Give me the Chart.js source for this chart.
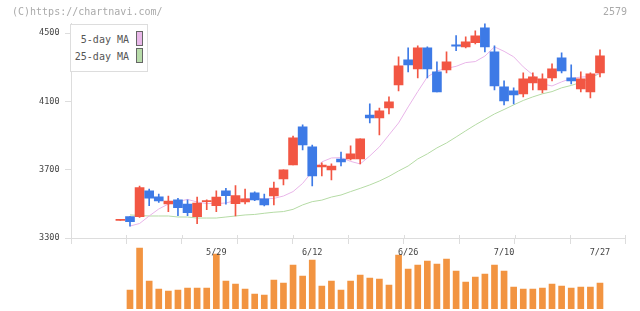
<!DOCTYPE html>
<html>
<head>
<meta charset="utf-8">
<script src="https://cdn.jsdelivr.net/npm/chart.js@4/dist/chart.umd.min.js"></script>
<style>
html, body { margin: 0; padding: 0; background: #fff; }
#wrap { position: relative; width: 640px; height: 311px; overflow: hidden; font-family: "DejaVu Sans Mono", monospace; }
canvas { position: absolute; left: 0; top: 0; }
.hdr { position: absolute; top: 5px; font-size: 10px; line-height: 14px; color: #aaa; }
#legend { position: absolute; left: 70px; top: 24px; width: 78px; height: 48px; box-sizing: border-box; border: 1px solid #ddd; background: #fff; }
.lg-text { position: absolute; font-size: 10px; line-height: 14px; color: #555; text-align: right; white-space: nowrap; }
.lg-box { position: absolute; width: 7px; height: 15px; box-sizing: border-box; border: 1px solid #666; }
</style>
</head>
<body>
<div id="wrap">
  <canvas id="vol" width="640" height="311"></canvas>
  <canvas id="price" width="640" height="311"></canvas>
  <div class="hdr" style="left:12px;">(C)https://chartnavi.com/</div>
  <div class="hdr" style="right:13px;">2579</div>
  <div id="legend"></div>
  <div class="lg-text" style="right:511px; top:33px;">5-day MA</div>
  <div class="lg-box" style="left:136px; top:31px; background:#e9b8e9;"></div>
  <div class="lg-text" style="right:511px; top:50px;">25-day MA</div>
  <div class="lg-box" style="left:136px; top:48px; background:#b8dcaa;"></div>
</div>
<script>
// candle data, one entry per trading day (index 0 = first day on the chart)
const OPEN  = [3403, 3425, 3425, 3577, 3542, 3499, 3523, 3499, 3425, 3513,
               3489, 3576, 3501, 3511, 3564, 3529, 3546, 3646, 3728, 3951,
               3834, 3716, 3699, 3763, 3763, 3763, 4021, 4004, 4062, 4197,
               4344, 4291, 4414, 4274, 4285, 4432, 4420, 4444, 4532, 4391,
               4186, 4162, 4145, 4209, 4168, 4238, 4356, 4238, 4174, 4156, 4268];
const HIGH  = [3409, 3425, 3605, 3587, 3558, 3546, 3533, 3523, 3540, 3523,
               3576, 3591, 3607, 3587, 3570, 3558, 3627, 3699, 3898, 3963,
               3845, 3740, 3734, 3804, 3840, 3881, 4086, 4062, 4127, 4362,
               4414, 4426, 4420, 4332, 4391, 4487, 4479, 4514, 4555, 4426,
               4221, 4180, 4268, 4268, 4262, 4320, 4385, 4315, 4274, 4268, 4403];
const LOW   = [3403, 3370, 3420, 3489, 3509, 3454, 3431, 3431, 3384, 3466,
               3454, 3498, 3429, 3499, 3519, 3488, 3494, 3611, 3728, 3816,
               3605, 3664, 3640, 3722, 3757, 3734, 3974, 3904, 4027, 4162,
               4274, 4238, 4238, 4156, 4268, 4398, 4414, 4438, 4391, 4168,
               4080, 4086, 4127, 4168, 4150, 4221, 4268, 4203, 4156, 4121, 4244];
const CLOSE = [3409, 3396, 3595, 3533, 3517, 3517, 3478, 3448, 3505, 3519,
               3540, 3548, 3548, 3529, 3523, 3494, 3593, 3699, 3887, 3845,
               3664, 3728, 3722, 3746, 3793, 3881, 4004, 4045, 4098, 4309,
               4315, 4414, 4291, 4156, 4332, 4424, 4450, 4485, 4420, 4191,
               4104, 4139, 4233, 4244, 4233, 4291, 4279, 4221, 4233, 4262, 4367];

// moving averages as drawn on the chart
const MA5  = [null, 3370, 3385, 3429, 3470, 3499, 3514, 3526, 3511, 3502,
              3502, 3505, 3520, 3529, 3533, 3529, 3532, 3546, 3572, 3620,
              3689, 3746, 3769, 3771, 3749, 3734, 3781, 3834, 3904, 3974,
              4068, 4158, 4244, 4279, 4294, 4306, 4328, 4334, 4366, 4420,
              4394, 4362, 4303, 4256, 4203, 4191, 4215, 4235, 4243, 4246, 4266];
const MA25 = [null, 3435, 3432, 3429, 3429, 3429, 3423, 3423, 3417, 3417,
              3417, 3423, 3429, 3435, 3438, 3445, 3451, 3455, 3468, 3494,
              3513, 3522, 3540, 3552, 3572, 3591, 3611, 3634, 3661, 3693,
              3722, 3763, 3793, 3828, 3857, 3892, 3928, 3963, 3995, 4027,
              4053, 4080, 4106, 4127, 4145, 4158, 4180, 4194, 4212, 4238, 4265];

// volume (shares), no trades on the first day
const VOLUME = [null, 19000, 61000, 28000, 20000, 18000, 19000, 21000, 21000, 21000,
                55000, 28000, 25000, 20000, 15000, 14000, 29000, 26000, 44000, 33000,
                49000, 23000, 28000, 19000, 28000, 34000, 31000, 30000, 24000, 54000,
                40000, 44000, 48000, 45000, 50000, 38000, 27000, 32000, 35000, 44000,
                38000, 22000, 20000, 20000, 21000, 25000, 23000, 21000, 22000, 22000, 26000];

const DATE_LABELS = ['5/29', '6/12', '6/26', '7/10', '7/27'];
const DATE_INDEX = [10, 20, 30, 40, 50];
const PRICE_TICKS = [3300, 3700, 4100, 4500];

// axis geometry
const X_MIN = -5.15;
const X_MAX = 52.66;
const Y_MIN = 3300;
const Y_MAX = 4560;
const VOL_MAX = 65000;

const UP = '#f25643';
const DOWN = '#3d7ae6';
const PINK = '#e9b5e9';
const GREEN = '#b5dba5';
const ORANGE = '#f29441';
const AXIS = '#dddddd';
const TICK_FONT = { family: 'DejaVu Sans Mono', size: 8.5 };

const days = CLOSE.map((_, i) => i);
const candleColor = days.map(i => CLOSE[i] >= OPEN[i] ? UP : DOWN);

// small marks above the x axis at every grid tick
const tickUp = {
    id: 'tickUp',
    afterDraw(chart) {
        const s = chart.scales.x;
        const ctx = chart.ctx;
        ctx.save();
        ctx.strokeStyle = AXIS;
        ctx.lineWidth = 1;
        s.ticks.forEach(t => {
            const px = Math.round(s.getPixelForValue(t.value)) + 0.5;
            ctx.beginPath();
            ctx.moveTo(px, s.top - 3);
            ctx.lineTo(px, s.top);
            ctx.stroke();
        });
        ctx.restore();
    }
};

new Chart(document.getElementById('price'), {
    type: 'bar',
    data: {
        datasets: [
            {
                type: 'line',
                data: days.map(i => ({ x: i, y: MA5[i] })),
                borderColor: PINK,
                borderWidth: 1,
                pointRadius: 0,
                fill: false,
                order: 3
            },
            {
                type: 'line',
                data: days.map(i => ({ x: i, y: MA25[i] })),
                borderColor: GREEN,
                borderWidth: 1,
                pointRadius: 0,
                fill: false,
                order: 4
            },
            {
                data: days.map(i => ({ x: i, y: [LOW[i], HIGH[i]] })),
                backgroundColor: candleColor,
                barThickness: 1,
                grouped: false,
                order: 2
            },
            {
                data: days.map(i => ({ x: i, y: [OPEN[i], CLOSE[i]] })),
                backgroundColor: candleColor,
                barThickness: 9,
                grouped: false,
                order: 1
            }
        ]
    },
    options: {
        responsive: false,
        animation: false,
        events: [],
        plugins: { legend: { display: false }, tooltip: { enabled: false } },
        layout: { padding: { left: 0, right: 14.5, top: 23, bottom: 47 } },
        scales: {
            x: {
                type: 'linear',
                position: 'bottom',
                offset: false,
                min: X_MIN,
                max: X_MAX,
                ticks: { display: false },
                grid: { drawOnChartArea: false, offset: false, color: AXIS, tickLength: 6 },
                border: { color: AXIS },
                afterBuildTicks: s => {
                    s.ticks = Array.from({ length: 11 }, (_, k) => ({ value: X_MIN + k * (X_MAX - X_MIN) / 10 }));
                },
                afterFit: s => { s.height = 6; }
            },
            xl: {
                type: 'linear',
                position: 'bottom',
                offset: false,
                min: X_MIN,
                max: X_MAX,
                grid: { display: false, drawTicks: false, offset: false },
                border: { display: false },
                ticks: {
                    font: TICK_FONT,
                    color: '#444',
                    padding: 4,
                    maxRotation: 0,
                    autoSkip: false,
                    callback: (v, k) => DATE_LABELS[k]
                },
                afterBuildTicks: s => { s.ticks = DATE_INDEX.map(v => ({ value: v })); },
                afterFit: s => { s.height = 20; }
            },
            y: {
                type: 'linear',
                min: Y_MIN,
                max: Y_MAX,
                grid: { drawOnChartArea: false, color: AXIS, tickLength: 6 },
                border: { color: AXIS },
                ticks: {
                    font: TICK_FONT,
                    color: '#444',
                    padding: 5.5,
                    callback: v => String(v)
                },
                afterBuildTicks: s => { s.ticks = PRICE_TICKS.map(v => ({ value: v })); },
                afterFit: s => { s.width = 71; }
            }
        }
    },
    plugins: [tickUp]
});

new Chart(document.getElementById('vol'), {
    type: 'bar',
    data: {
        datasets: [{
            data: days.map(i => ({ x: i, y: VOLUME[i] })),
            backgroundColor: ORANGE,
            barThickness: 6
        }]
    },
    options: {
        responsive: false,
        animation: false,
        events: [],
        plugins: { legend: { display: false }, tooltip: { enabled: false } },
        layout: { padding: { left: 71, right: 14.5, top: 244, bottom: 2 } },
        scales: {
            x: { type: 'linear', offset: false, min: X_MIN, max: X_MAX, display: false },
            y: { min: 0, max: VOL_MAX, display: false }
        }
    }
});
</script>
</body>
</html>
